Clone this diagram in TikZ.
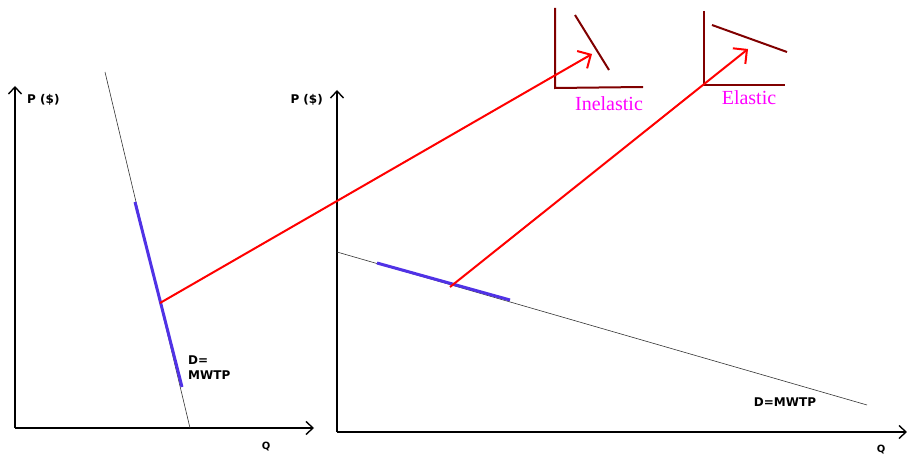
\documentclass[tikz,border=0pt]{standalone}
\usepackage{fontspec}
\setmainfont{Liberation Serif}
\newfontfamily\handfont{DejaVu Sans}
\usetikzlibrary{arrows.meta}
\definecolor{dkred}{RGB}{128,0,0}
\definecolor{dblue}{RGB}{80,50,230}
\definecolor{brmag}{RGB}{255,0,255}
\tikzset{
  axis/.style={draw=black,line width=1.5pt,-{Straight Barb[length=7pt,width=13pt,line width=1.4pt]}},
  demand/.style={draw=black!80,line width=0.6pt},
  seg/.style={draw=dblue,line width=3pt},
  redarrow/.style={draw=red,line width=2pt,-{Straight Barb[length=10pt,width=20pt,line width=2pt]}},
  icon/.style={draw=dkred,line width=2pt},
  hand/.style={font=\handfont\bfseries\fontsize{12}{15}\selectfont,inner sep=0pt,align=left},
  lab/.style={font=\fontsize{20}{22}\selectfont,text=brmag,inner sep=0pt}
}
\begin{document}
\begin{tikzpicture}[x=1pt,y=-1pt]
\useasboundingbox (0,0) rectangle (907,457);
% left graph
\coordinate (LO) at (15,428);
\coordinate (LY) at (15,86);
\coordinate (LX) at (314,428);
\draw[axis] (LO) -- (LY);
\draw[axis] (LO) -- (LX);
\node[hand,anchor=west] (lp) at (27,100) {P (\$)};
\node[hand,font=\handfont\bfseries\fontsize{10}{12}\selectfont] (lq) at (266,447) {Q};
\coordinate (LD1) at (105,72);
\coordinate (LD2) at (190,428);
\draw[demand] (LD1) -- (LD2);
\coordinate (LB1) at (135,202);
\coordinate (LB2) at (182,387);
\draw[seg] (LB1) -- (LB2);
\node[hand,anchor=west] (ld) at (188,368) {D=\\MWTP};
% right graph
\coordinate (RO) at (337,432);
\coordinate (RY) at (337,90);
\coordinate (RX) at (907,432);
\draw[axis] (RO) -- (RY);
\draw[axis] (RO) -- (RX);
\node[hand,anchor=east] (rp) at (323,100) {P (\$)};
\node[hand,font=\handfont\bfseries\fontsize{10}{12}\selectfont] (rq) at (881,450) {Q};
\coordinate (RD1) at (337,252);
\coordinate (RD2) at (867,405);
\draw[demand] (RD1) -- (RD2);
\coordinate (RB1) at (377,263);
\coordinate (RB2) at (510,300);
\draw[seg] (RB1) -- (RB2);
\node[hand] (rd) at (785,402) {D=MWTP};
% inelastic icon
\coordinate (IV1) at (555,8);
\coordinate (IV2) at (555,88);
\coordinate (IH2) at (643,87);
\draw[icon] (IV1) -- (IV2) -- (IH2);
\coordinate (ID1) at (575,15);
\coordinate (ID2) at (609,70);
\draw[icon] (ID1) -- (ID2);
\node[lab] (inel) at (609,104) {Inelastic};
% elastic icon
\coordinate (EV1) at (704,11);
\coordinate (EV2) at (704,85);
\coordinate (EH2) at (785,85);
\draw[icon] (EV1) -- (EV2) -- (EH2);
\coordinate (ED1) at (712,25);
\coordinate (ED2) at (787,52);
\draw[icon] (ED1) -- (ED2);
\node[lab] (el) at (749,98) {Elastic};
% red arrows
\coordinate (A1s) at (160,303);
\coordinate (A1e) at (592,54);
\draw[redarrow] (A1s) -- (A1e);
\coordinate (A2s) at (450,287);
\coordinate (A2e) at (748,49);
\draw[redarrow] (A2s) -- (A2e);
\end{tikzpicture}
\end{document}
